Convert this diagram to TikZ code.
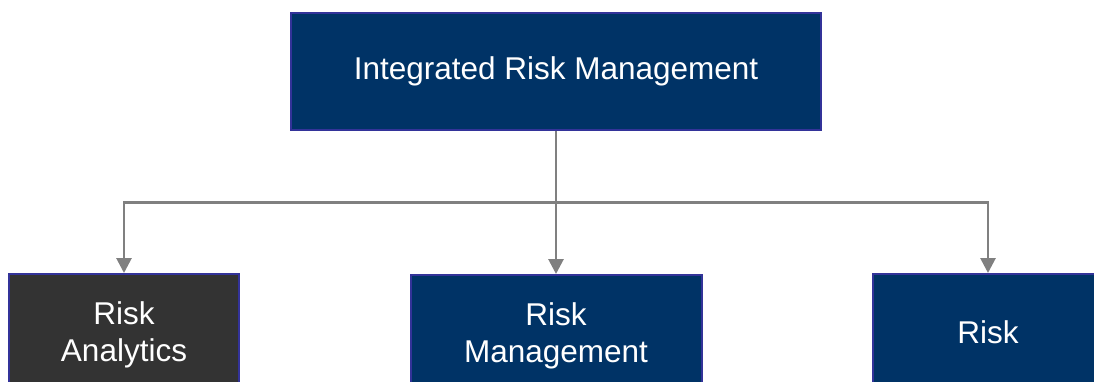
\documentclass[tikz,border=0pt]{standalone}
\usepackage{fontspec}
\setmainfont{Liberation Sans}
\usetikzlibrary{arrows.meta}

\definecolor{navy}{HTML}{003366}
\definecolor{edge}{HTML}{333399}
\definecolor{slate}{HTML}{333333}
\definecolor{wire}{HTML}{808080}

\tikzset{
  box/.style={draw=edge, line width=2pt, fill=navy, text=white, align=center,
    inner sep=0pt, font=\fontsize{31.5}{37}\selectfont},
  link/.style={draw=wire, line width=2.8pt},
  arr/.style={link, -{Triangle[width=15pt,length=15pt]}}
}

\begin{document}
\begin{tikzpicture}[x=1pt, y=1pt]

    % Page frame, everything below it is cut off
    \useasboundingbox (0,0) rectangle (1094,-381);
    \clip (0,0) rectangle (1094,-381);

    % Top box
    \node[box, minimum width=530, minimum height=117] (irm) at (556,-71.5)
        {Integrated Risk Management};

    % The three boxes in the bottom row
    \node[box, fill=slate, minimum width=230, minimum height=122] (ra) at (124,-335)
        {Risk\\Analytics};
    \node[box, minimum width=291, minimum height=122] (rm) at (556,-336)
        {Risk\\Management};
    \node[box, minimum width=230, minimum height=116] (rk) at (988,-332)
        {Risk};

    % Branch point of the connectors
    \coordinate (split) at (556,-202.5);

    % Trunk from the top box
    \draw[link] (irm.south) -- (split);

    % Branches down to each box
    \draw[arr] (split) -| (ra.north);
    \draw[arr] (split) -- (rm.north);
    \draw[arr] (split) -| (rk.north);

\end{tikzpicture}
\end{document}
